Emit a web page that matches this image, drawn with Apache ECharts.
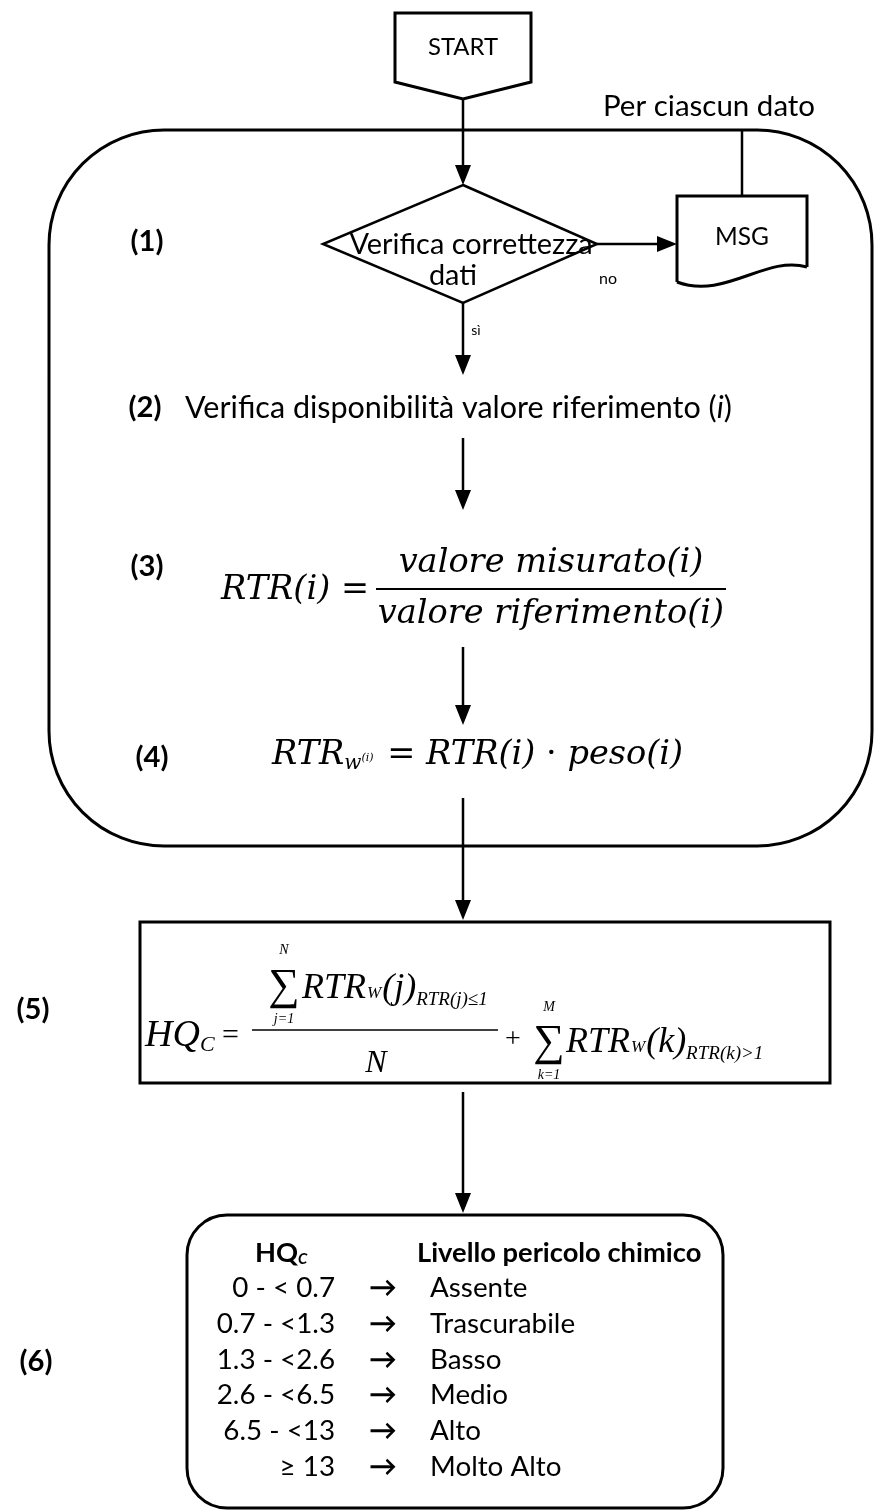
<!DOCTYPE html>
<html>
<head>
<meta charset="utf-8">
<title>HQc flowchart</title>
<script src="https://cdn.jsdelivr.net/npm/echarts@6/dist/echarts.min.js"></script>
<style>
  html, body { margin: 0; padding: 0; background: #fff; }
  #chart { width: 874px; height: 1512px; }
</style>
</head>
<body>
<div id="chart"></div>
<script>
// testi del diagramma
const stepLabels = ['(1)', '(2)', '(3)', '(4)', '(5)', '(6)'];
const hqRanges = ['0 - < 0.7', '0.7 - <1.3', '1.3 - <2.6', '2.6 - <6.5', '6.5 - <13', '≥ 13'];
const dangerLevels = ['Assente', 'Trascurabile', 'Basso', 'Medio', 'Alto', 'Molto Alto'];

const SANS = '"Lato", "Noto Sans", sans-serif';
const MATH = '"DejaVu Serif", serif';
const TIMES = '"Liberation Serif", "DejaVu Serif", serif';

// misura della larghezza di un testo (per comporre le formule)
const ctx = document.createElement('canvas').getContext('2d');
function textW(str, font) {
  ctx.font = font;
  return ctx.measureText(str).width;
}
// dimensione del font che da' al testo la larghezza voluta
function fit(str, style, family, w) {
  const size = w / textW(str, style + ' 100px ' + family) * 100;
  return style + ' ' + size.toFixed(1) + 'px ' + family;
}

function txt(x, y, str, font, align) {
  return {
    type: 'text', x: x, y: y, z: 10,
    style: { text: str, font: font, fill: '#000', align: align || 'center', verticalAlign: 'middle' }
  };
}

// pezzi di testo uno dopo l'altro (dy per pedici, gap per spaziatura)
function run(els, x, y, pieces) {
  pieces.forEach(function (p) {
    els.push(txt(x, y + (p.dy || 0), p.t, p.f, 'left'));
    x += textW(p.t, p.f) + (p.gap || 0);
  });
  return x;
}

function line(x1, y1, x2, y2, w) {
  return { type: 'line', shape: { x1: x1, y1: y1, x2: x2, y2: y2 }, style: { stroke: '#000', lineWidth: w || 2.5 } };
}

function arrowDown(els, x, y1, y2) {
  els.push(line(x, y1, x, y2 - 16));
  els.push({ type: 'polygon', shape: { points: [[x - 8, y2 - 20], [x + 8, y2 - 20], [x, y2]] }, style: { fill: '#000' } });
}

function arrowRight(els, x1, x2, y) {
  els.push(line(x1, y, x2 - 16, y));
  els.push({ type: 'polygon', shape: { points: [[x2 - 20, y - 8], [x2 - 20, y + 8], [x2, y]] }, style: { fill: '#000' } });
}

const els = [];
const cx = 463;
const fLabel = fit('(1)', 'bold', SANS, 33);

// START
els.push({ type: 'polygon', shape: { points: [[395, 13], [531, 13], [531, 82], [cx, 99], [395, 82]] },
  style: { fill: 'none', stroke: '#000', lineWidth: 3 } });
els.push(txt(cx, 47, 'START', fit('START', 'normal', SANS, 70)));
arrowDown(els, cx, 99, 185);

// ciclo "Per ciascun dato"
els.push({ type: 'rect', shape: { x: 49, y: 130, width: 823, height: 716, r: 115 },
  style: { fill: 'none', stroke: '#000', lineWidth: 3 } });
els.push(txt(709, 106, 'Per ciascun dato', fit('Per ciascun dato', 'normal', SANS, 212)));
els.push(line(742, 130, 742, 196));

// (1) verifica dati
const fDiam = fit('Verifica correttezza', 'normal', SANS, 243);
els.push({ type: 'polygon', shape: { points: [[cx, 185], [597, 244], [cx, 303], [323, 244]] },
  style: { fill: '#fff', stroke: '#000', lineWidth: 2.5 } });
els.push(txt(471, 245, 'Verifica correttezza', fDiam));
els.push(txt(453, 276, 'dati', fDiam));
arrowRight(els, 597, 677, 244);
els.push(txt(608, 279, 'no', '16px ' + SANS));
// MSG (documento)
els.push({ type: 'polyline', shape: { points: [[677, 282], [677, 196], [807, 196], [807, 267]] },
  style: { fill: 'none', stroke: '#000', lineWidth: 3 } });
els.push({ type: 'bezierCurve', shape: { x1: 807, y1: 267, cpx1: 765, cpy1: 255, cpx2: 725, cpy2: 300, x2: 677, y2: 282 },
  style: { fill: 'none', stroke: '#000', lineWidth: 3 } });
els.push(txt(742, 237, 'MSG', fit('MSG', 'normal', SANS, 54)));
arrowDown(els, cx, 303, 375);
els.push(txt(476, 330, 'sì', '14px ' + SANS));

// etichette dei passi
const labelPos = [[147, 242], [145, 408], [147, 567], [152, 758], [33, 1010], [36, 1362]];
stepLabels.forEach(function (s, i) {
  els.push(txt(labelPos[i][0], labelPos[i][1], s, fLabel));
});

// (2)
const f2 = fit('Verifica disponibilità valore riferimento (i)', 'normal', SANS, 548);
run(els, 185, 408, [
  { t: 'Verifica disponibilità valore riferimento (', f: f2 },
  { t: 'i', f: 'italic ' + f2 },
  { t: ')', f: f2 }
]);
arrowDown(els, cx, 438, 510);

// (3)
const f3 = fit('valore riferimento(i)', 'italic', MATH, 347);
const f3n = f3.replace('italic', 'normal');
run(els, 221, 590, [
  { t: 'RTR(i)', f: f3 },
  { t: ' = ', f: f3n }
]);
els.push(line(376, 589, 726, 589, 2));
els.push(txt(551, 563, 'valore misurato(i)', f3));
els.push(txt(551, 614, 'valore riferimento(i)', f3));
arrowDown(els, cx, 647, 725);

// (4)
run(els, 272, 755, [
  { t: 'RTR', f: f3 },
  { t: 'w', f: 'italic 20px ' + MATH, dy: 9 },
  { t: '(i)', f: 'italic 11px ' + MATH, dy: 3, gap: 3 },
  { t: ' = ', f: f3n },
  { t: 'RTR(i)', f: f3 },
  { t: ' · ', f: f3n },
  { t: 'peso(i)', f: f3 }
]);
arrowDown(els, cx, 798, 920);

// (5)
els.push({ type: 'rect', shape: { x: 140, y: 922, width: 690, height: 161 },
  style: { fill: 'none', stroke: '#000', lineWidth: 3 } });
const f5 = 'italic 36px ' + TIMES;
const w5 = 'italic 17px ' + TIMES;
const sub5 = 'italic 19px ' + TIMES;
const lim5 = 'italic 14px ' + TIMES;
const sig5 = '44px ' + TIMES;
run(els, 145, 1036, [
  { t: 'HQ', f: 'italic 38px ' + TIMES },
  { t: 'C', f: 'italic 22px ' + TIMES, dy: 9 },
  { t: ' = ', f: '30px ' + TIMES }
]);
els.push(line(252, 1030, 498, 1030, 1.5));
els.push(txt(284, 987, '∑', sig5));
els.push(txt(284, 950, 'N', lim5));
els.push(txt(284, 1019, 'j=1', lim5));
run(els, 302, 989, [
  { t: 'RTR', f: f5, gap: 1 },
  { t: 'W', f: w5, dy: 5, gap: 1 },
  { t: '(j)', f: f5 },
  { t: 'RTR(j)≤1', f: sub5, dy: 11 }
]);
els.push(txt(376, 1064, 'N', 'italic 32px ' + TIMES));
els.push(txt(513, 1040, '+', '28px ' + TIMES));
els.push(txt(549, 1043, '∑', sig5));
els.push(txt(549, 1007, 'M', lim5));
els.push(txt(549, 1075, 'k=1', lim5));
run(els, 566, 1043, [
  { t: 'RTR', f: f5, gap: 1 },
  { t: 'W', f: w5, dy: 5, gap: 1 },
  { t: '(k)', f: f5 },
  { t: 'RTR(k)>1', f: sub5, dy: 11 }
]);
arrowDown(els, cx, 1092, 1213);

// (6) classi di pericolo
const fRow = fit('Trascurabile', 'normal', SANS, 145);
const fHead = fit('Livello pericolo chimico', 'bold', SANS, 284);
els.push({ type: 'rect', shape: { x: 187, y: 1215, width: 536, height: 293, r: 40 },
  style: { fill: 'none', stroke: '#000', lineWidth: 3 } });
run(els, 255, 1253, [
  { t: 'HQ', f: fHead },
  { t: 'C', f: 'bold italic 15px ' + SANS, dy: 6 }
]);
els.push(txt(417, 1253, 'Livello pericolo chimico', fHead, 'left'));
hqRanges.forEach(function (r, i) {
  const y = 1288 + i * 35.8;
  els.push(txt(335, y, r, fRow, 'right'));
  els.push(txt(383, y, '→', 'bold ' + fRow.replace('normal ', '')));
  els.push(txt(430, y, dangerLevels[i], fRow, 'left'));
});

const chart = echarts.init(document.getElementById('chart'));
chart.setOption({
  backgroundColor: '#fff',
  animation: false,
  graphic: { elements: els }
});
</script>
</body>
</html>
